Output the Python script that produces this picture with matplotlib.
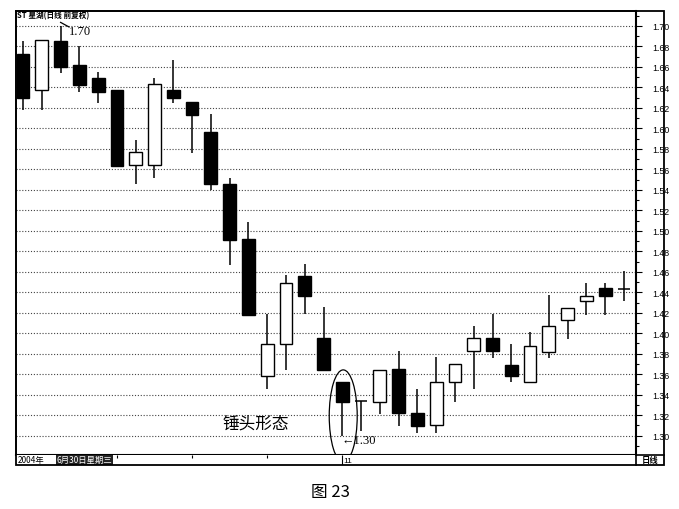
import numpy as np
import matplotlib
matplotlib.use('Agg')
import matplotlib.pyplot as plt
from matplotlib.patches import Ellipse, Rectangle
from matplotlib.lines import Line2D
from matplotlib.ticker import MultipleLocator

plt.rcParams['font.family'] = ['Liberation Sans', 'Noto Sans CJK SC', 'DejaVu Sans']

# daily candles
opens  = [1.673, 1.637, 1.685, 1.662, 1.649, 1.637, 1.564, 1.564, 1.637, 1.626, 1.596,
          1.546, 1.492, 1.358, 1.389, 1.456, 1.395, 1.352, 1.334, 1.333, 1.365, 1.322,
          1.310, 1.352, 1.383, 1.395, 1.369, 1.352, 1.382, 1.413, 1.431, 1.444, 1.443]
highs  = [1.685, 1.686, 1.700, 1.680, 1.655, 1.637, 1.589, 1.649, 1.667, 1.626, 1.614,
          1.552, 1.509, 1.419, 1.457, 1.468, 1.426, 1.352, 1.334, 1.364, 1.383, 1.346,
          1.377, 1.370, 1.407, 1.419, 1.389, 1.401, 1.437, 1.425, 1.449, 1.449, 1.461]
lows   = [1.618, 1.618, 1.654, 1.636, 1.625, 1.563, 1.546, 1.552, 1.625, 1.576, 1.540,
          1.467, 1.418, 1.346, 1.364, 1.419, 1.364, 1.300, 1.305, 1.321, 1.309, 1.303,
          1.303, 1.333, 1.346, 1.376, 1.352, 1.352, 1.376, 1.394, 1.418, 1.418, 1.431]
closes = [1.630, 1.686, 1.660, 1.642, 1.636, 1.563, 1.577, 1.643, 1.630, 1.613, 1.546,
          1.491, 1.418, 1.389, 1.449, 1.436, 1.364, 1.333, 1.334, 1.364, 1.322, 1.309,
          1.352, 1.370, 1.395, 1.383, 1.358, 1.388, 1.407, 1.425, 1.436, 1.436, 1.443]

price_ticks = np.round(np.arange(1.30, 1.701, 0.02), 2)
date_ticks = [5, 9, 13]
hammer_idx = 17

W, H = 679, 510
fig = plt.figure(figsize=(6.79, 5.10), dpi=100)

def fx(px):
    return px / W

def fy(py):
    return 1 - py / H

left, right, top, bot = 15.7, 636, 11.7, 455.7
ax = fig.add_axes([fx(left), fy(bot), fx(right) - fx(left), fy(top) - fy(bot)])

x = np.arange(len(opens))
o = np.array(opens); c = np.array(closes)
h = np.array(highs); l = np.array(lows)

ax.vlines(x, l, h, color='black', lw=1.1, zorder=2)
up = c > o
down = c < o
doji = c == o
ax.bar(x[down], (o - c)[down], bottom=c[down], width=0.68, color='black',
       edgecolor='black', lw=1, zorder=3)
ax.bar(x[up], (c - o)[up], bottom=o[up], width=0.68, color='white',
       edgecolor='black', lw=1, zorder=3)
ax.hlines(o[doji], x[doji] - 0.34, x[doji] + 0.34, color='black', lw=1.1, zorder=3)

ax.set_xlim(-0.39, 32.64)
ax.set_ylim(1.2814, 1.7149)

ax.yaxis.tick_right()
ax.set_yticks(price_ticks)
ax.set_yticklabels(['%.2f' % v for v in price_ticks])
ax.yaxis.set_minor_locator(MultipleLocator(0.01))
ax.tick_params(axis='y', which='major', length=4, width=0.8, pad=8, labelsize=6.3)
ax.tick_params(axis='y', which='minor', length=2.5, width=0.8)
ax.set_xticks([])
ax.grid(axis='y', which='major', linestyle=(0, (1, 1.6)), color='#444444', lw=0.8)
ax.set_axisbelow(True)
for s in ['left', 'top']:
    ax.spines[s].set_linewidth(1.2)
ax.spines['right'].set_linewidth(1.5)
ax.spines['bottom'].set_linewidth(1.5)

# title
fig.text(fx(17), fy(16), 'ST 星湖(日线 前复权)', ha='left', va='center',
         fontsize=5.5, fontweight='bold', family=['Noto Sans CJK SC', 'DejaVu Sans'])

# high annotation
ax.plot([2, 2.45], [1.7035, 1.699], color='black', lw=0.9)
ax.text(2.45, 1.6955, '1.70', ha='left', va='center', fontsize=9,
        family=['Liberation Serif', 'DejaVu Serif'])

# hammer annotation
ax.text(hammer_idx - 0.05, lows[hammer_idx] - 0.0045, '←1.30', ha='left', va='center', fontsize=9,
        family=['Liberation Serif', 'DejaVu Serif'])
ax.add_patch(Ellipse((hammer_idx + 0.05, 1.3192), 1.49, 0.09, fill=False, lw=0.9,
                     color='black', clip_on=False, zorder=4))
ax.text(10.6, 1.3125, '锤头形态', ha='left', va='center', fontsize=12,
        family=['Noto Sans CJK SC', 'DejaVu Sans'])

# date strip
dax = fig.add_axes([fx(left), fy(466), fx(right) - fx(left), fy(bot) - fy(466)], sharex=ax)
dax.set_yticks([])
dax.set_xticks([])
for s in dax.spines.values():
    s.set_visible(False)
dax.set_ylim(0, 1)
dax.vlines(date_ticks, 0.7, 1, color='black', lw=0.8)
dax.vlines([hammer_idx], 0, 1, color='black', lw=0.8)
dax.text(hammer_idx + 0.08, 0.45, '11', ha='left', va='center', fontsize=6)
dax.text(-0.3, 0.5, '2004年', ha='left', va='center', fontsize=6,
         family=['Noto Sans CJK SC', 'DejaVu Sans'])
dax.text(1.8, 0.5, '6月30日星期三', ha='left', va='center', fontsize=6, color='white',
         family=['Noto Sans CJK SC', 'DejaVu Sans'],
         bbox=dict(boxstyle='square,pad=0.1', fc='#222222', ec='none'))

# outer frame and right panel
fig.add_artist(Rectangle((fx(left), fy(466)), fx(664) - fx(left), fy(top) - fy(466),
                         transform=fig.transFigure, fill=False, lw=1.3, color='black'))
fig.add_artist(Line2D([fx(right), fx(664)], [fy(bot), fy(bot)], transform=fig.transFigure,
                      color='black', lw=1.2))
fig.add_artist(Line2D([fx(right), fx(right)], [fy(466), fy(bot)], transform=fig.transFigure,
                      color='black', lw=1.2))
fig.text(fx(650), fy(461), '日线', ha='center', va='center', fontsize=6, fontweight='bold',
         family=['Noto Sans CJK SC', 'DejaVu Sans'])

# caption
fig.text(fx(330), fy(493), '图 23', ha='center', va='center', fontsize=12,
         family=['Noto Sans CJK SC', 'DejaVu Sans'])

fig.savefig('out.png', dpi=100)
